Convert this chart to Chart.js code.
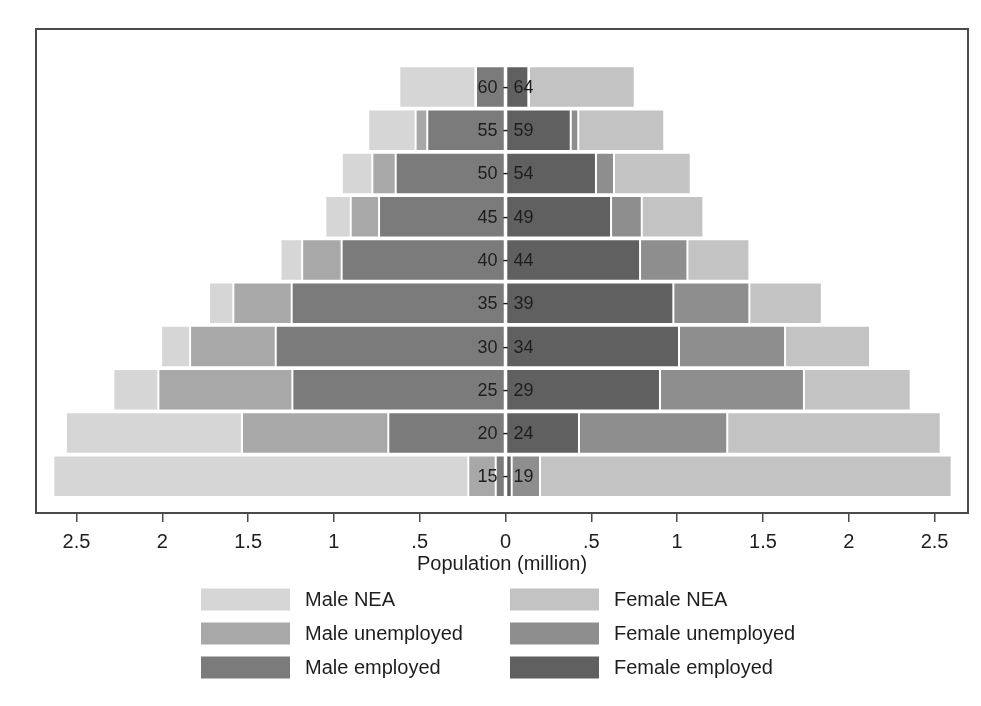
<!DOCTYPE html>
<html>
<head>
<meta charset="utf-8">
<title>Population by age, sex and economic activity</title>
<script src="https://cdn.jsdelivr.net/npm/chart.js@4/dist/chart.umd.min.js"></script>
<style>
  html, body { margin: 0; padding: 0; background: #ffffff; }
  #wrap { width: 981px; height: 706px; }
</style>
</head>
<body>
<div id="wrap"><canvas id="pyramid" width="981" height="706"></canvas></div>
<script>
// Age groups, youngest first (drawn bottom to top)
const ageGroups = ['15 - 19', '20 - 24', '25 - 29', '30 - 34', '35 - 39',
                   '40 - 44', '45 - 49', '50 - 54', '55 - 59', '60 - 64'];

// Population in millions
const maleEmployed     = [0.057, 0.683, 1.242, 1.339, 1.246, 0.955, 0.737, 0.640, 0.456, 0.172];
const maleUnemployed   = [0.160, 0.853, 0.781, 0.499, 0.340, 0.230, 0.165, 0.136, 0.068, 0.004];
const maleNEA          = [2.418, 1.026, 0.262, 0.169, 0.142, 0.126, 0.148, 0.178, 0.276, 0.443];
const femaleEmployed   = [0.036, 0.428, 0.900, 1.011, 0.978, 0.784, 0.615, 0.527, 0.380, 0.133];
const femaleUnemployed = [0.165, 0.864, 0.839, 0.618, 0.443, 0.276, 0.179, 0.105, 0.044, 0.004];
const femaleNEA        = [2.399, 1.244, 0.622, 0.495, 0.422, 0.361, 0.359, 0.447, 0.501, 0.616];

// Axis ticks
const xTickValues = [-2.5, -2, -1.5, -1, -0.5, 0, 0.5, 1, 1.5, 2, 2.5];
const xTickLabels = ['2.5', '2', '1.5', '1', '.5', '0', '.5', '1', '1.5', '2', '2.5'];

const FONT = '"Liberation Sans", Arial, Helvetica, sans-serif';
const INK = '#1e1e1e';

// Each series sits on a numeric row position so the value axis can leave room above the top bar
function rows(values, sign) {
  return values.map((v, i) => ({ x: sign * v, y: i }));
}

// Stacking runs outward from zero in dataset order: employed, unemployed, not active
const datasets = [
  { label: 'Male employed',      data: rows(maleEmployed, -1),     backgroundColor: '#7b7b7b' },
  { label: 'Male unemployed',    data: rows(maleUnemployed, -1),   backgroundColor: '#a8a8a8' },
  { label: 'Male NEA',           data: rows(maleNEA, -1),          backgroundColor: '#d6d6d6' },
  { label: 'Female employed',    data: rows(femaleEmployed, 1),    backgroundColor: '#606060' },
  { label: 'Female unemployed',  data: rows(femaleUnemployed, 1),  backgroundColor: '#8e8e8e' },
  { label: 'Female NEA',         data: rows(femaleNEA, 1),         backgroundColor: '#c3c3c3' }
].map(d => Object.assign(d, {
  stack: 'population',
  borderColor: '#ffffff',
  borderWidth: 1,
  borderSkipped: false,
  barPercentage: 0.96,
  categoryPercentage: 1
}));

// Legend reading order: two columns, male left and female right
const legendOrder = [2, 5, 1, 4, 0, 3];

const framePlugin = {
  id: 'frameAndLabels',
  afterDatasetsDraw(chart) {
    const { ctx, chartArea: a, scales: { x, y } } = chart;
    ctx.save();
    // white zero line through the bars
    const x0 = x.getPixelForValue(0);
    ctx.strokeStyle = '#ffffff';
    ctx.lineWidth = 2;
    ctx.beginPath();
    ctx.moveTo(x0, a.top);
    ctx.lineTo(x0, a.bottom);
    ctx.stroke();
    // age-group names on the bars
    ctx.fillStyle = INK;
    ctx.font = '18px ' + FONT;
    ctx.textAlign = 'center';
    ctx.textBaseline = 'middle';
    ageGroups.forEach((g, i) => ctx.fillText(g, x0, y.getPixelForValue(i) + 1));
    // plot frame
    ctx.strokeStyle = '#4a4a4a';
    ctx.lineWidth = 2;
    ctx.strokeRect(a.left, a.top, a.right - a.left, a.bottom - a.top);
    ctx.restore();
  },
  afterDraw(chart) {
    const { ctx, chartArea: a } = chart;
    const mid = (a.left + a.right) / 2;
    const colX = [mid - 301, mid + 8];
    const top = a.bottom + 75.5;
    const rowStep = 34, boxW = 89, boxH = 22;
    ctx.save();
    ctx.font = '20px ' + FONT;
    ctx.textAlign = 'left';
    ctx.textBaseline = 'middle';
    legendOrder.forEach((di, k) => {
      const ds = chart.data.datasets[di];
      const bx = colX[k % 2];
      const by = top + Math.floor(k / 2) * rowStep;
      ctx.fillStyle = ds.backgroundColor;
      ctx.fillRect(bx, by, boxW, boxH);
      ctx.fillStyle = INK;
      ctx.fillText(ds.label, bx + boxW + 15, by + boxH / 2 + 1);
    });
    ctx.restore();
  }
};

new Chart(document.getElementById('pyramid'), {
  type: 'bar',
  data: { datasets },
  options: {
    indexAxis: 'y',
    responsive: false,
    animation: false,
    layout: { padding: { top: 29, left: 36, right: 13, bottom: 130 } },
    plugins: {
      legend: { display: false },
      tooltip: { enabled: false }
    },
    scales: {
      x: {
        type: 'linear',
        stacked: true,
        min: -2.736,
        max: 2.695,
        afterBuildTicks: s => { s.ticks = xTickValues.map(v => ({ value: v })); },
        ticks: {
          autoSkip: false,
          maxRotation: 0,
          padding: 8,
          color: INK,
          font: { family: FONT, size: 20 },
          callback: (v, i) => xTickLabels[i]
        },
        grid: {
          drawOnChartArea: false,
          drawTicks: true,
          tickLength: 9,
          color: '#4a4a4a',
          lineWidth: 1.5
        },
        border: { display: false },
        title: {
          display: true,
          text: 'Population (million)',
          color: INK,
          font: { family: FONT, size: 20 },
          padding: { top: -10, bottom: 0 }
        }
      },
      y: {
        type: 'linear',
        display: false,
        offset: false,
        min: -0.848,
        max: 10.341,
        afterBuildTicks: s => { s.ticks = ageGroups.map((g, i) => ({ value: i })); }
      }
    }
  },
  plugins: [framePlugin]
});
</script>
</body>
</html>
